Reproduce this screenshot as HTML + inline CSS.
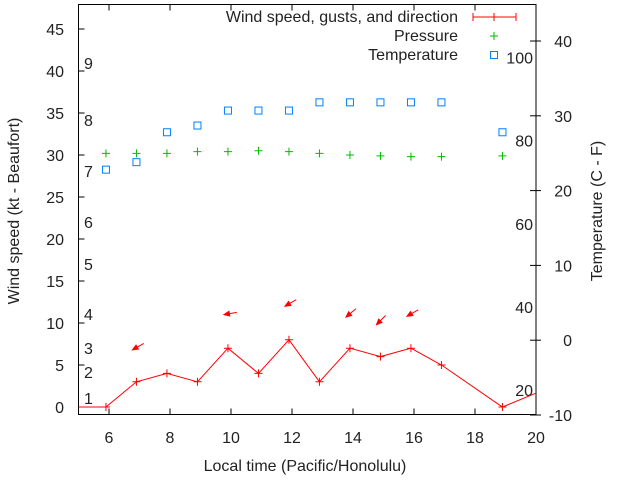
<!DOCTYPE html>
<html><head><meta charset="utf-8"><style>
body{margin:0;background:#fff}
svg{display:block;font-family:"Liberation Sans",sans-serif;font-size:16px}
</style></head><body>
<svg id="c" width="640" height="480" viewBox="0 0 640 480">
<g id="g"></g>
</svg>
<script>
const hours=[5.9,6.9,7.9,8.9,9.9,10.9,11.9,12.9,13.9,14.9,15.9,16.9,18.9];
const windSpeed=[0,3,4,3,7,4,8,3,7,6,7,5,0];
const windHours=[4.9,5.9,6.9,7.9,8.9,9.9,10.9,11.9,12.9,13.9,14.9,15.9,16.9,18.9,20.9];
const windLine=[0,0,3,4,3,7,4,8,3,7,6,7,5,0,3];
const pressure=[30.2,30.2,30.2,30.4,30.4,30.5,30.4,30.2,30.0,29.9,29.8,29.8,29.9];
const temperature=[22.8,23.8,27.8,28.7,30.7,30.7,30.7,31.8,31.8,31.8,31.8,31.8,27.8];
const gustHours=[6.9,9.9,11.9,13.9,14.9,15.9];
const gustValues=[6.8,11,12,10.7,9.8,10.8];
const gustDirs=[60,80,60,50,45,60];
const xTicks=[6,8,10,12,14,16,18,20];
const yTicks=[0,5,10,15,20,25,30,35,40,45];
const y2Ticks=[-10,0,10,20,30,40];
const beaufort=[[1,398],[2,372],[3,348],[4,314],[5,264],[6,222],[7,171],[8,120],[9,63]];
const fLabels=[20,40,60,80,100];

const L=78.5,R=536,T=4.5,B=414.5;
const X=h=>L+(h-5)/(20-5)*(R-L);
const Y=v=>407-v*8.4;
const Y2=c=>415-(c+10)*7.48;
const NS='http://www.w3.org/2000/svg';
const g=document.getElementById('g');
function el(t,a,txt){const e=document.createElementNS(NS,t);for(const k in a)e.setAttribute(k,a[k]);if(txt!==undefined)e.textContent=txt;g.appendChild(e);return e;}

let e=el('rect',{x:L,y:T,width:R-L,height:B-T,fill:'none',stroke:'#000','stroke-width':1});


xTicks.forEach(t=>{
  const x=X(t);
  let l=el('line',{x1:x,y1:B,x2:x,y2:B-6,stroke:'#000'});
  
  
  el('line',{x1:x,y1:T,x2:x,y2:T+6,stroke:'#000'});
  let tx=el('text',{x:x,y:443,'text-anchor':'middle',fill:'#222'},t);
  
  
});
yTicks.forEach(t=>{
  const y=Y(t);
  let l=el('line',{x1:L,y1:y,x2:L+6,y2:y,stroke:'#000'});
  
  
  let tx=el('text',{x:64,y:y+6,'text-anchor':'end',fill:'#222'},t);
  
  
});
y2Ticks.forEach(t=>{
  const y=Y2(t);
  let l=el('line',{x1:R,y1:y,x2:R+5,y2:y,stroke:'#000'});
  
  
  l=el('line',{x1:R,y1:y,x2:R-6,y2:y,stroke:'#000'});
  let tx=el('text',{x:572,y:y+6,'text-anchor':'end',fill:'#222'},t);
  
  
});
beaufort.forEach(b=>{
  let tx=el('text',{x:84,y:b[1]+6,fill:'#222'},b[0]);
  
  
});
fLabels.forEach(f=>{
  const c=(f-32)*5/9;
  let tx=el('text',{x:533,y:Y2(c)+6,'text-anchor':'end',fill:'#222'},f);
  
  
});

e=el('text',{x:305,y:471,'text-anchor':'middle',fill:'#222'},'Local time (Pacific/Honolulu)');


e=el('text',{x:0,y:0,'text-anchor':'middle',fill:'#222',transform:'translate(19,211) rotate(-90)'},'Wind speed (kt - Beaufort)');


e=el('text',{x:0,y:0,'text-anchor':'middle',fill:'#222',transform:'translate(602,211) rotate(-90)'},'Temperature (C - F)');



const defs=el('defs',{});
const cp=document.createElementNS(NS,'clipPath');cp.setAttribute('id','cl');
const cr=document.createElementNS(NS,'rect');cr.setAttribute('x',L);cr.setAttribute('y',T);cr.setAttribute('width',R-L);cr.setAttribute('height',B-T);
cp.appendChild(cr);defs.appendChild(cp);

e=el('polyline',{points:windHours.map((h,i)=>X(h)+','+Y(windLine[i])).join(' '),fill:'none',stroke:'#f00','stroke-width':1,'clip-path':'url(#cl)'});


function plus(x,y,c,n){
  let p=el('path',{d:`M${x-4},${y}h8M${x},${y-4}v8`,stroke:c,'stroke-width':1});
  
  
}
hours.forEach((h,i)=>plus(X(h),Y(windSpeed[i]),'#f00','wind-point'));
hours.forEach((h,i)=>plus(X(h),Y(pressure[i]),'#00bb00','pressure-point'));
hours.forEach((h,i)=>{
  let r=el('rect',{x:X(h)-3.5,y:Y2(temperature[i])-3.5,width:7,height:7,fill:'none',stroke:'#0080ff','stroke-width':1});
  
  
});
gustHours.forEach((h,i)=>{
  const x=X(h)-4,y=Y(gustValues[i]);
  const a=gustDirs[i]*Math.PI/180,len=13;
  const tx=x+len*Math.sin(a),ty=y-len*Math.cos(a);
  const ang=Math.atan2(y-ty,x-tx);
  const h1x=x-6*Math.cos(ang-0.4),h1y=y-6*Math.sin(ang-0.4);
  const h2x=x-6*Math.cos(ang+0.4),h2y=y-6*Math.sin(ang+0.4);
  let p=el('path',{d:`M${tx},${ty}L${x},${y}M${h1x},${h1y}L${x},${y}L${h2x},${h2y}Z`,stroke:'#f00',fill:'#f00','stroke-width':1});
  
  
});

e=el('text',{x:458,y:22,'text-anchor':'end',fill:'#222'},'Wind speed, gusts, and direction');


el('path',{d:'M473,17H516M473,13v8M516,13v8M494,13v8',stroke:'#f00',fill:'none'});
e=el('text',{x:458,y:41,'text-anchor':'end',fill:'#222'},'Pressure');


plus(494,36,'#00bb00','legend-pressure-symbol');
e=el('text',{x:458,y:60,'text-anchor':'end',fill:'#222'},'Temperature');


e=el('rect',{x:490.5,y:51.5,width:7,height:7,fill:'none',stroke:'#0080ff'});


</script>
</body></html>
